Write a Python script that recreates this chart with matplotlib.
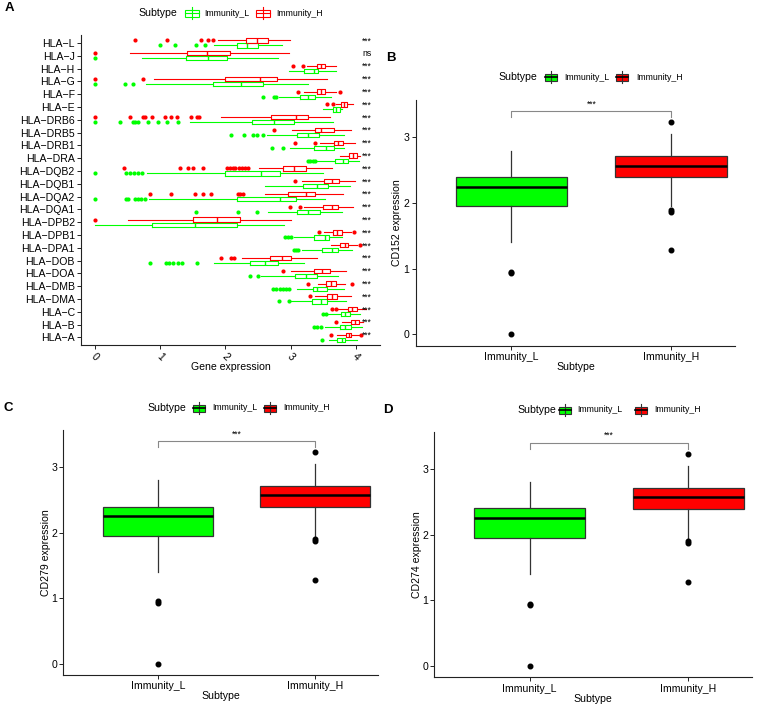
import matplotlib
matplotlib.use("Agg")
import matplotlib.pyplot as plt
from matplotlib.patches import Rectangle

plt.rcParams["font.family"] = ["Liberation Sans", "DejaVu Sans"]

W, H = 758, 706
GREEN = "#00FF00"
RED = "#FF0000"

# ---- panel A: HLA genes, top to bottom as drawn ----
genes = ["HLA−L", "HLA−J", "HLA−H", "HLA−G", "HLA−F", "HLA−E", "HLA−DRB6",
         "HLA−DRB5", "HLA−DRB1", "HLA−DRA", "HLA−DQB2", "HLA−DQB1", "HLA−DQA2",
         "HLA−DQA1", "HLA−DPB2", "HLA−DPB1", "HLA−DPA1", "HLA−DOB", "HLA−DOA",
         "HLA−DMB", "HLA−DMA", "HLA−C", "HLA−B", "HLA−A"]
sig = ["***", "ns"] + ["***"] * 22

# Immunity_H (red)
h_wlo = [1.88, 0.53, 3.25, 0.90, 3.21, 3.69, 1.93, 3.02, 3.45, 3.75, 2.51, 3.18,
         2.60, 3.20, 0.51, 3.51, 3.62, 2.26, 3.00, 3.42, 3.38, 3.71, 3.79, 3.71]
h_q1 = [2.32, 1.41, 3.40, 2.00, 3.40, 3.77, 2.70, 3.37, 3.66, 3.90, 2.88, 3.51,
        2.96, 3.50, 1.51, 3.65, 3.75, 2.68, 3.36, 3.54, 3.55, 3.88, 3.93, 3.85]
h_med = [2.49, 1.72, 3.47, 2.53, 3.47, 3.82, 3.08, 3.47, 3.73, 3.96, 3.05, 3.63,
         3.24, 3.63, 1.87, 3.71, 3.83, 2.86, 3.48, 3.62, 3.64, 3.94, 3.98, 3.89]
h_q3 = [2.66, 2.07, 3.52, 2.79, 3.53, 3.87, 3.26, 3.66, 3.81, 4.02, 3.23, 3.74,
        3.38, 3.72, 2.23, 3.78, 3.88, 3.00, 3.60, 3.70, 3.71, 4.01, 4.05, 3.93]
h_whi = [2.99, 2.97, 3.70, 3.56, 3.69, 3.95, 3.61, 3.92, 3.98, 4.06, 3.64, 3.99,
         3.81, 3.96, 3.01, 3.92, 4.02, 3.40, 3.85, 3.83, 3.93, 4.16, 4.11, 4.06]
h_out = [[0.61, 1.11, 1.63, 1.73, 1.81], [0.0], [3.04, 3.19], [0.0, 0.74],
         [3.11, 3.75], [3.56, 3.65],
         [0.0, 0.54, 0.73, 0.77, 0.88, 1.08, 1.16, 1.26, 1.47, 1.57, 1.60],
         [2.75], [3.06, 3.38], [],
         [0.44, 1.30, 1.43, 1.50, 1.65, 2.03, 2.07, 2.11, 2.15, 2.21, 2.25, 2.30, 2.35],
         [3.07], [0.84, 1.16, 1.53, 1.65, 1.78, 2.19, 2.23, 2.27], [2.99, 3.14],
         [0.0], [3.44, 3.97], [4.07], [1.93, 2.08, 2.13], [2.88], [3.26, 3.94],
         [3.29], [3.64, 3.69], [3.70], [3.62, 4.08]]

# Immunity_L (green)
l_wlo = [1.83, 0.72, 2.97, 0.78, 2.82, 3.50, 1.46, 2.64, 2.99, 3.41, 0.79, 2.61,
         0.83, 2.66, 0.00, 3.05, 3.18, 1.82, 2.55, 3.10, 3.00, 3.56, 3.53, 3.59]
l_q1 = [2.18, 1.39, 3.21, 1.81, 3.14, 3.65, 2.41, 3.10, 3.36, 3.68, 2.00, 3.19,
        2.17, 3.10, 0.88, 3.36, 3.48, 2.37, 3.06, 3.34, 3.33, 3.77, 3.75, 3.71]
l_med = [2.33, 1.73, 3.36, 2.24, 3.26, 3.70, 2.75, 3.26, 3.54, 3.81, 2.55, 3.41,
         2.83, 3.27, 1.53, 3.52, 3.64, 2.61, 3.23, 3.41, 3.46, 3.84, 3.84, 3.78]
l_q3 = [2.50, 2.02, 3.42, 2.58, 3.38, 3.75, 3.05, 3.43, 3.66, 3.88, 2.83, 3.58,
        3.08, 3.45, 2.17, 3.59, 3.72, 2.80, 3.41, 3.56, 3.56, 3.91, 3.92, 3.84]
l_whi = [2.86, 2.80, 3.70, 3.27, 3.62, 3.79, 3.65, 3.82, 3.82, 4.05, 3.50, 3.91,
         3.53, 3.79, 2.90, 3.79, 3.94, 3.21, 3.72, 3.82, 3.85, 4.06, 4.10, 4.02]
l_out = [[1.00, 1.23, 1.55, 1.68], [0.0], [], [0.0, 0.46, 0.58], [2.58, 2.75, 2.78],
         [], [0.0, 0.38, 0.59, 0.62, 0.66, 0.82, 0.96, 1.10, 1.28],
         [2.09, 2.29, 2.43, 2.49, 2.58], [2.72, 2.88], [3.26, 3.30, 3.34, 3.38],
         [0.0, 0.48, 0.54, 0.60, 0.66, 0.72], [],
         [0.0, 0.48, 0.51, 0.61, 0.66, 0.71, 0.76], [1.55, 2.19, 2.48], [],
         [2.92, 2.96, 3.00], [3.05, 3.08, 3.11],
         [0.84, 1.09, 1.14, 1.19, 1.28, 1.33, 1.57], [2.37, 2.50],
         [2.73, 2.78, 2.83, 2.88, 2.93, 2.98], [2.82, 2.97], [3.50, 3.54],
         [3.36, 3.41, 3.46], [3.48]]

# ---- panels B, C, D: immune checkpoint genes (same distributions) ----
subtypes = ["Immunity_L", "Immunity_H"]
cp_ylabels = ["CD152 expression", "CD279 expression", "CD274 expression"]
cp_wlo = [1.40, 1.95]
cp_q1 = [1.95, 2.39]
cp_med = [2.25, 2.57]
cp_q3 = [2.40, 2.71]
cp_whi = [2.80, 3.05]
cp_out = [[0.0, 0.93, 0.95], [1.28, 1.87, 1.90, 3.23]]


def make_stats(wlo, q1, med, q3, whi, out):
    return [dict(whislo=a, q1=b, med=c, q3=d, whishi=e, fliers=f)
            for a, b, c, d, e, f in zip(wlo, q1, med, q3, whi, out)]


def px_axes(fig, left, top, right, bottom):
    return fig.add_axes([left / W, 1 - bottom / H, (right - left) / W, (bottom - top) / H])


def style_axes(ax):
    for s in ["top", "right"]:
        ax.spines[s].set_visible(False)
    for s in ["left", "bottom"]:
        ax.spines[s].set_linewidth(0.8)
        ax.spines[s].set_color("#222222")
    ax.tick_params(length=3, width=0.7, color="#222222", labelsize=7.6, pad=1.5)


fig = plt.figure(figsize=(W / 100, H / 100), dpi=100)

# overlay in pixel coords for panel letters and legends
ov = fig.add_axes([0, 0, 1, 1])
ov.set_xlim(0, W)
ov.set_ylim(H, 0)
ov.axis("off")


def legend(x_title, y, keys, filled):
    ov.text(x_title, y, "Subtype", fontsize=7.6, va="center", ha="left")
    for kx, lx, col, lab in keys:
        kw, kh = (12, 7) if filled else (14, 7)
        cx = kx + kw / 2
        ov.plot([cx, cx], [y - kh / 2 - 2.5, y + kh / 2 + 2.5],
                color="#333333" if filled else col, lw=0.8)
        ov.add_patch(Rectangle((kx, y - kh / 2), kw, kh,
                               facecolor=col if filled else "white",
                               edgecolor="#333333" if filled else col, lw=0.8))
        ov.plot([kx, kx + kw], [y, y], color="black" if filled else col,
                lw=1.2 if filled else 0.8)
        ov.text(lx, y, lab, fontsize=6.3, va="center", ha="left")


for letter, lx, ly in [("A", 9, 8), ("B", 391, 58), ("C", 8, 408), ("D", 388, 410)]:
    ov.text(lx, ly, letter, fontsize=9.5, fontweight="bold", ha="center", va="center")

legend(138, 13, [(185, 204, GREEN, "Immunity_L"), (256, 276, RED, "Immunity_H")], False)
legend(498, 77, [(545, 564, GREEN, "Immunity_L"), (616, 636, RED, "Immunity_H")], True)
legend(147, 408, [(193, 212, GREEN, "Immunity_L"), (264, 283, RED, "Immunity_H")], True)
legend(517, 410, [(559, 577, GREEN, "Immunity_L"), (635, 654, RED, "Immunity_H")], True)

# ---- panel A ----
axA = px_axes(fig, 81, 35, 380, 345)
n = len(genes)
pos = [n - i for i in range(n)]
for stats, off, col in [(make_stats(l_wlo, l_q1, l_med, l_q3, l_whi, l_out), -0.2, GREEN),
                        (make_stats(h_wlo, h_q1, h_med, h_q3, h_whi, h_out), 0.2, RED)]:
    axA.bxp(stats, positions=[p + off for p in pos], widths=0.34,
            orientation="horizontal", showcaps=False, manage_ticks=False,
            boxprops=dict(color=col, lw=0.8),
            whiskerprops=dict(color=col, lw=0.8),
            medianprops=dict(color=col, lw=1.0),
            flierprops=dict(marker="o", markerfacecolor=col, markeredgecolor="none",
                            markersize=3.0))
for p, s in zip(pos, sig):
    axA.text(4.17, p + 0.15, s, fontsize=6.2, ha="center", va="center")
axA.set_xlim(-0.215, 4.37)
axA.set_ylim(0.4, 24.62)
axA.set_yticks(pos)
axA.set_yticklabels(genes)
axA.set_xticks([0, 1, 2, 3, 4])
axA.set_xticklabels(["0", "1", "2", "3", "4"], rotation=-45, ha="center", va="top")
style_axes(axA)
axA.set_xlabel("Gene expression", fontsize=7.6)
axA.xaxis.label.set_va("center")
axA.xaxis.set_label_coords(0.5, -0.071)

# ---- panels B, C, D ----
cp_boxes = [(415.7, 100, 735, 345.7), (63.3, 430, 378.3, 675), (434.3, 431.7, 751.7, 677.3)]
cp_label_x = [-0.06, -0.055, -0.055]
for (l, t, r, b), ylab, lx in zip(cp_boxes, cp_ylabels, cp_label_x):
    ax = px_axes(fig, l, t, r, b)
    res = ax.bxp(make_stats(cp_wlo, cp_q1, cp_med, cp_q3, cp_whi, cp_out),
                 positions=[1, 2], widths=0.7, patch_artist=True, showcaps=False,
                 manage_ticks=False,
                 boxprops=dict(edgecolor="#333333", lw=0.9),
                 whiskerprops=dict(color="#333333", lw=0.9),
                 medianprops=dict(color="black", lw=1.8),
                 flierprops=dict(marker="o", markerfacecolor="black",
                                 markeredgecolor="black", markersize=3.3))
    for box, col in zip(res["boxes"], [GREEN, RED]):
        box.set_facecolor(col)
    # significance bracket
    ax.plot([1, 1, 2, 2], [3.31, 3.40, 3.40, 3.31], color="#888888", lw=0.8)
    ax.text(1.5, 3.51, "***", fontsize=6.2, ha="center", va="center")
    ax.set_xlim(0.4, 2.4)
    ax.set_ylim(-0.175, 3.57)
    ax.set_xticks([1, 2])
    ax.set_xticklabels(subtypes)
    ax.set_yticks([0, 1, 2, 3])
    style_axes(ax)
    ax.set_xlabel("Subtype", fontsize=7.6)
    ax.xaxis.label.set_va("center")
    ax.xaxis.set_label_coords(0.5, -0.087)
    ax.set_ylabel(ylab, fontsize=7.6)
    ax.yaxis.label.set_va("center")
    ax.yaxis.set_label_coords(lx, 0.5)

fig.savefig("out.png", dpi=100)
